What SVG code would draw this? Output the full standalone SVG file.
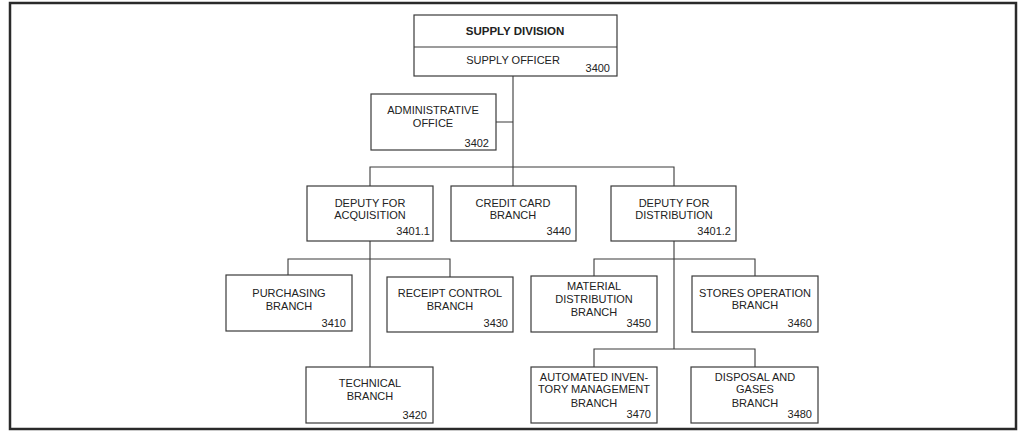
<svg xmlns="http://www.w3.org/2000/svg" width="1024" height="436" viewBox="0 0 1024 436">
<style>
.bg{fill:#ffffff}
.frame{fill:none;stroke:#2a2a2a;stroke-width:2.5}
.box{fill:#ffffff;stroke:#3a3a3a;stroke-width:1.2}
.ln{fill:none;stroke:#3a3a3a;stroke-width:1.1}
text{font-family:"Liberation Sans",Arial,sans-serif;font-size:11px;fill:#222}
.c{text-anchor:middle}
.n{text-anchor:end}
.b{font-weight:bold;font-size:11.5px}
</style>
<rect class="bg" x="0" y="0" width="1024" height="436"/>
<rect class="frame" x="10" y="3" width="1006" height="426"/>
<g id="connectors">
<path class="ln" d="M513 76V167M496 122H513"/>
<path class="ln" d="M370 186V167H674V186M513 167V186"/>
<path class="ln" d="M370 241V367M288 275V259H450V277"/>
<path class="ln" d="M674 241V349M594 276V259H755V276M594 367V349H755V367"/>
</g>
<g id="supply-division">
<rect class="box" x="414" y="15" width="203" height="61"/>
<line class="ln" x1="414" y1="47" x2="617" y2="47"/>
<text class="c b" x="515" y="35">SUPPLY DIVISION</text>
<text class="c" x="513" y="64">SUPPLY OFFICER</text>
<text class="n" x="610" y="72">3400</text>
</g>
<g id="administrative-office">
<rect class="box" x="371" y="94" width="125" height="56"/>
<text class="c" x="433" y="114">ADMINISTRATIVE</text>
<text class="c" x="433" y="127">OFFICE</text>
<text class="n" x="489" y="147">3402</text>
</g>
<g id="deputy-acquisition">
<rect class="box" x="307" y="186" width="126" height="55"/>
<text class="c" x="370" y="207">DEPUTY FOR</text>
<text class="c" x="370" y="219">ACQUISITION</text>
<text class="n" x="430" y="235">3401.1</text>
</g>
<g id="credit-card-branch">
<rect class="box" x="451" y="186" width="125" height="55"/>
<text class="c" x="513" y="207">CREDIT CARD</text>
<text class="c" x="513" y="219">BRANCH</text>
<text class="n" x="571" y="235">3440</text>
</g>
<g id="deputy-distribution">
<rect class="box" x="611" y="186" width="125" height="55"/>
<text class="c" x="674" y="207">DEPUTY FOR</text>
<text class="c" x="674" y="219">DISTRIBUTION</text>
<text class="n" x="731" y="235">3401.2</text>
</g>
<g id="purchasing-branch">
<rect class="box" x="226" y="275" width="126" height="56"/>
<text class="c" x="289" y="297">PURCHASING</text>
<text class="c" x="289" y="310">BRANCH</text>
<text class="n" x="346" y="327">3410</text>
</g>
<g id="receipt-control-branch">
<rect class="box" x="387" y="277" width="126" height="55"/>
<text class="c" x="450" y="297">RECEIPT CONTROL</text>
<text class="c" x="450" y="310">BRANCH</text>
<text class="n" x="508" y="327">3430</text>
</g>
<g id="material-distribution-branch">
<rect class="box" x="531" y="276" width="126" height="56"/>
<text class="c" x="594" y="290">MATERIAL</text>
<text class="c" x="594" y="303">DISTRIBUTION</text>
<text class="c" x="594" y="316">BRANCH</text>
<text class="n" x="651" y="327">3450</text>
</g>
<g id="stores-operation-branch">
<rect class="box" x="692" y="276" width="126" height="56"/>
<text class="c" x="755" y="297">STORES OPERATION</text>
<text class="c" x="755" y="309">BRANCH</text>
<text class="n" x="812" y="327">3460</text>
</g>
<g id="technical-branch">
<rect class="box" x="306" y="367" width="127" height="56"/>
<text class="c" x="370" y="387">TECHNICAL</text>
<text class="c" x="370" y="400">BRANCH</text>
<text class="n" x="427" y="419">3420</text>
</g>
<g id="automated-inventory-management-branch">
<rect class="box" x="531" y="367" width="126" height="56"/>
<text class="c" x="594" y="381">AUTOMATED INVEN-</text>
<text class="c" x="594" y="393">TORY MANAGEMENT</text>
<text class="c" x="594" y="407">BRANCH</text>
<text class="n" x="651" y="418">3470</text>
</g>
<g id="disposal-and-gases-branch">
<rect class="box" x="691" y="367" width="127" height="56"/>
<text class="c" x="755" y="381">DISPOSAL AND</text>
<text class="c" x="755" y="393">GASES</text>
<text class="c" x="755" y="407">BRANCH</text>
<text class="n" x="812" y="418">3480</text>
</g>
</svg>
